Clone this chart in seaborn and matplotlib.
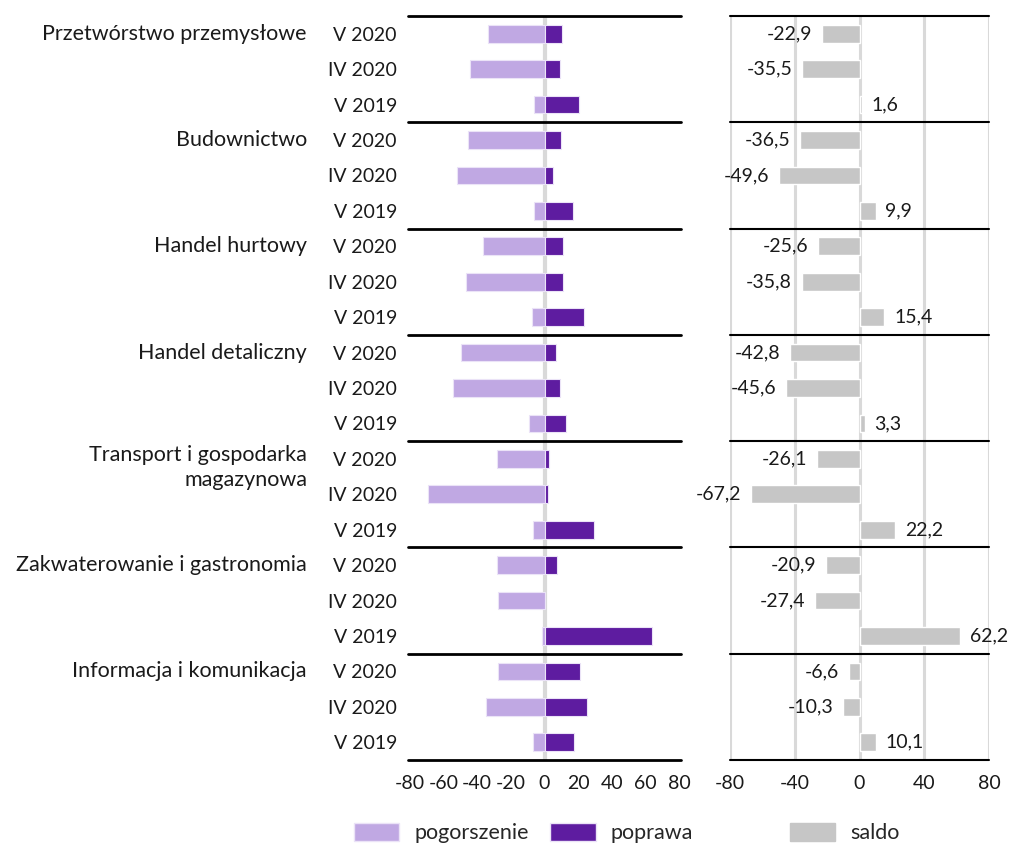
import numpy as np
import pandas as pd
import matplotlib
matplotlib.use("Agg")
import matplotlib.pyplot as plt
import matplotlib.transforms as mtransforms
from matplotlib.patches import Patch
import seaborn as sns

sectors = ["Przetwórstwo przemysłowe", "Budownictwo", "Handel hurtowy",
           "Handel detaliczny", "Transport i gospodarka\nmagazynowa",
           "Zakwaterowanie i gastronomia", "Informacja i komunikacja"]
periods = ["V 2020", "IV 2020", "V 2019"]
pogorszenie = [33.3, 44.5, 6.1, 45.6, 51.8, 6.3, 36.3, 46.7, 7.5, 49.3, 54.4, 9.2,
               28.2, 69.0, 7.1, 28.0, 27.8, 1.5, 27.4, 34.9, 7.1]
poprawa = [10.4, 9.0, 20.3, 9.5, 5.3, 16.8, 10.9, 11.2, 23.3, 6.7, 9.1, 12.8,
           2.4, 1.8, 29.6, 7.5, 0.4, 63.7, 21.1, 25.1, 17.6]
saldo = [-22.9, -35.5, 1.6, -36.5, -49.6, 9.9, -25.6, -35.8, 15.4, -42.8, -45.6, 3.3,
         -26.1, -67.2, 22.2, -20.9, -27.4, 62.2, -6.6, -10.3, 10.1]
x_ticks_left = [-80, -60, -40, -20, 0, 20, 40, 60, 80]
x_ticks_right = [-80, -40, 0, 40, 80]

C_POG = "#c0a8e3"
C_POP = "#5e1ca0"
C_SAL = "#c6c6c6"
GRID = "#d9d9d9"
TXT = "#1a1a1a"

sns.set_theme(style="white")
plt.rcParams["font.family"] = ["Lato", "DejaVu Sans"]
plt.rcParams["axes.unicode_minus"] = False
FS = 14
FS_T = 15.5

n = len(sectors) * len(periods)
rows = [f"r{i:02d}" for i in range(n)]
period_labels = [periods[i % 3] for i in range(n)]

df_left = pd.DataFrame({
    "row": rows * 2,
    "value": [-v for v in pogorszenie] + list(poprawa),
    "series": ["pogorszenie"] * n + ["poprawa"] * n,
})
df_right = pd.DataFrame({"row": rows, "saldo": saldo})

fig = plt.figure(figsize=(10.11, 8.46), dpi=100)
W, H = 1011, 846
bottom = (H - 760) / H
height = 744 / H
ax1 = fig.add_axes([408 / W, bottom, 273 / W, height])
ax2 = fig.add_axes([730 / W, bottom, 259 / W, height])

# left panel
ax1.axvline(0, color=GRID, lw=3, zorder=0)
sns.barplot(data=df_left, y="row", x="value", hue="series", order=rows,
            hue_order=["pogorszenie", "poprawa"], palette=[C_POG, C_POP],
            orient="h", dodge=False, width=0.5, ax=ax1, legend=False,
            saturation=1, edgecolor="#ebe3f7", linewidth=0.8, zorder=2)
ax1.set_xlim(-81, 81)
ax1.set_ylim(n - 0.5, -0.5)
ax1.set_xticks(x_ticks_left)
ax1.set_xticklabels([str(t) for t in x_ticks_left])
ax1.set_yticks(range(n))
ax1.set_yticklabels(period_labels)
ax1.tick_params(axis="x", length=0, pad=11, labelsize=FS, labelcolor=TXT)
ax1.tick_params(axis="y", length=0, pad=8, labelsize=FS, labelcolor=TXT)
ax1.set_xlabel("")
ax1.set_ylabel("")
for s in ax1.spines.values():
    s.set_visible(False)
for k in range(len(sectors) + 1):
    ax1.axhline(k * 3 - 0.5, color="black", lw=2, zorder=3, clip_on=False)

trans = mtransforms.blended_transform_factory(ax1.transAxes, ax1.transData)
xs = (307 - 408) / 273
for k, name in enumerate(sectors):
    if "\n" in name:
        ax1.text(xs, k * 3 - 0.40, name, transform=trans, ha="right", va="top",
                 fontsize=FS_T, color=TXT, linespacing=1.34, multialignment="right")
    else:
        ax1.text(xs, k * 3, name, transform=trans, ha="right", va="center",
                 fontsize=FS_T, color=TXT)

# right panel
for t in x_ticks_right:
    ax2.axvline(t, color=GRID, lw=2.2, zorder=0)
sns.barplot(data=df_right, y="row", x="saldo", order=rows, color=C_SAL,
            orient="h", width=0.5, ax=ax2, saturation=1, zorder=2)
ax2.set_xlim(-80, 80)
ax2.set_ylim(n - 0.5, -0.5)
ax2.set_xticks(x_ticks_right)
ax2.set_xticklabels([str(t) for t in x_ticks_right])
ax2.set_yticks([])
ax2.tick_params(axis="x", length=0, pad=11, labelsize=FS, labelcolor=TXT)
ax2.set_xlabel("")
ax2.set_ylabel("")
for s in ax2.spines.values():
    s.set_visible(False)
for k in range(len(sectors) + 1):
    ax2.axhline(k * 3 - 0.5, color="black", lw=1.5, zorder=3, clip_on=False)
ax2.bar_label(ax2.containers[0],
              labels=[f"{v:.1f}".replace(".", ",") for v in saldo],
              padding=7, fontsize=FS, color=TXT)

# legends
fig.legend(handles=[Patch(facecolor=C_POG, edgecolor="#ebe3f7", label="pogorszenie"),
                    Patch(facecolor=C_POP, edgecolor="#ebe3f7", label="poprawa")],
           loc="center left", bbox_to_anchor=(354 / W, 1 - 833 / H), ncol=2,
           frameon=False, fontsize=FS_T, handlelength=2.1, handleheight=0.9,
           handletextpad=0.7, columnspacing=1.0, borderaxespad=0, borderpad=0)
fig.legend(handles=[Patch(facecolor=C_SAL, edgecolor=C_SAL, label="saldo")],
           loc="center left", bbox_to_anchor=(790 / W, 1 - 833 / H), ncol=1,
           frameon=False, fontsize=FS_T, handlelength=2.1, handleheight=0.9,
           handletextpad=0.7, borderaxespad=0, borderpad=0)

fig.savefig("out.png", dpi=100)
